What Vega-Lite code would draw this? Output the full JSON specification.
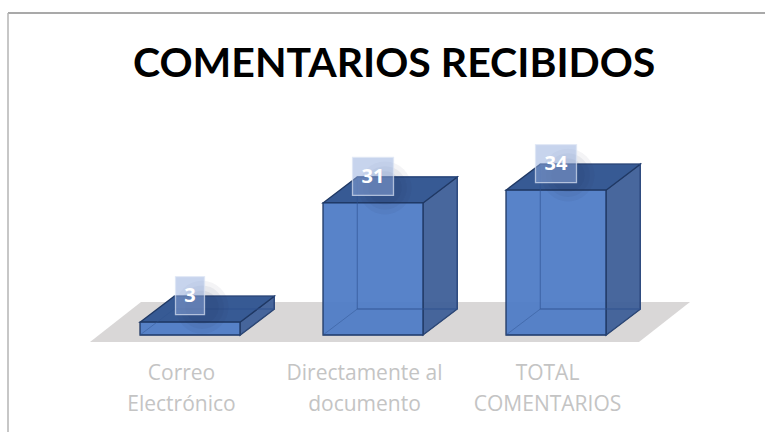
{
"$schema":"https://vega.github.io/schema/vega-lite/v6.json",
"width":765,"height":432,"padding":0,"autosize":"none","background":"white",
"config":{"view":{"stroke":null}},
"title":{"text":"COMENTARIOS RECIBIDOS","font":"Lato","fontWeight":"bold","fontSize":41,"color":"#000000","anchor":"start","offset":-86,"dx":133,"baseline":"top"},
"data":{"values":[
{"categoria":"Correo Electrónico","comentarios":3},
{"categoria":"Directamente al documento","comentarios":31},
{"categoria":"TOTAL COMENTARIOS","comentarios":34}]},
"encoding":{
"x":{"field":"categoria","type":"nominal","sort":null,"scale":{"type":"band","domain":["Correo Electrónico","Directamente al documento","TOTAL COMENTARIOS"],"range":[98.5,647.5],"paddingInner":0,"paddingOuter":0},
"axis":{"title":null,"orient":"bottom","offset":-97,"domain":false,"ticks":false,"labelAngle":0,"labelFont":"Open Sans","labelFontSize":21,"labelColor":"#c4c4c4","labelPadding":27,"labelLineHeight":31,"labelBaseline":"top","labelLimit":0,"labelOffset":-8.5,
"labelExpr":"datum.label=='Correo Electrónico'?['Correo','Electrónico']:datum.label=='Directamente al documento'?['Directamente al','documento']:['TOTAL','COMENTARIOS']"}},
"y":{"field":"comentarios","type":"quantitative","scale":{"domain":[0,40],"range":[335,164.6]},"axis":null}
},
"layer":[
{"mark":{"type":"point","filled":true,"fill":"#d9d7d7","opacity":1,"size":4,"shape":"M-232,-33L317,-33L266,7L-283,7Z"},
 "transform":[{"filter":"datum.comentarios==31"}],"encoding":{"y":{"datum":0}}},
{"mark":{"type":"point","filled":true,"fill":"#3f5f98","opacity":0.95,"stroke":"#1f3864","strokeWidth":1.3,"size":4},
 "encoding":{"shape":{"field":"categoria","type":"nominal","sort":null,"legend":null,"scale":{"domain":["Correo Electrónico","Directamente al documento","TOTAL COMENTARIOS"],"range":["M50,0L84.3,-26L84.3,-13L50,13Z","M50,0L84.3,-26L84.3,106L50,132Z","M50,0L84.3,-26L84.3,119L50,145Z"]}}}},
{"mark":{"type":"point","filled":true,"fill":"#375a94","opacity":1,"stroke":"#1f3864","strokeWidth":1.3,"size":4,"shape":"M-50,0L-15.7,-26L84.3,-26L50,0Z"}},
{"mark":{"type":"bar","size":100,"fill":"#4f7cc6","fillOpacity":0.95,"stroke":"#1f3864","strokeWidth":1.3},"encoding":{"y2":{"datum":0}}},
{"mark":{"type":"bar","size":100,"xOffset":34.3,"yOffset":-26,"y2Offset":-26,"fillOpacity":0,"stroke":"#2f528f","strokeWidth":1.2,"strokeOpacity":0.55},"encoding":{"y2":{"datum":0}}},
{"mark":{"type":"point","fillOpacity":0,"filled":false,"stroke":"#2f528f","strokeOpacity":0.45,"strokeWidth":1,"size":4,"shape":"M-50,0L-15.7,-26L84.3,-26L50,0Z"},"encoding":{"y":{"datum":0}}},
{"mark":{"type":"point","filled":true,"fill":"#1f2f4f","opacity":0.05,"size":2800,"shape":"circle","xOffset":12,"yOffset":-15}},
{"mark":{"type":"point","filled":true,"fill":"#1f2f4f","opacity":0.06,"size":1900,"shape":"circle","xOffset":12,"yOffset":-15}},
{"mark":{"type":"point","filled":true,"fill":"#1f2f4f","opacity":0.07,"size":1100,"shape":"circle","xOffset":12,"yOffset":-15}},
{"mark":{"type":"point","filled":true,"fill":"#8faadc","fillOpacity":0.5,"strokeOpacity":0.7,"size":4,"yOffset":-26.5,"xOffset":0,"stroke":"#dbe4f4","strokeWidth":1.3},
 "encoding":{"shape":{"field":"categoria","type":"nominal","sort":null,"legend":null,"scale":{"domain":["Correo Electrónico","Directamente al documento","TOTAL COMENTARIOS"],"range":["M-14.5,-19L14.5,-19L14.5,19L-14.5,19Z","M-20.5,-19L20.5,-19L20.5,19L-20.5,19Z","M-20.5,-19L20.5,-19L20.5,19L-20.5,19Z"]}}}},
{"mark":{"type":"text","font":"Open Sans","fontWeight":"bold","fontSize":20,"color":"#ffffff","yOffset":-26,"baseline":"middle"},"encoding":{"text":{"field":"comentarios","type":"quantitative"}}},
{"mark":{"type":"rule","color":"#8c8c8c","strokeWidth":1.3},"data":{"values":[{"a":8,"b":765,"c":13}]},"encoding":{"x":{"field":"a","type":"quantitative","scale":null},"x2":{"field":"b"},"y":{"field":"c","type":"quantitative","scale":null}}},
{"mark":{"type":"rule","color":"#b5b5b5","strokeWidth":1.5},"data":{"values":[{"a":8,"b":13,"c":432}]},"encoding":{"x":{"field":"a","type":"quantitative","scale":null},"y":{"field":"b","type":"quantitative","scale":null},"y2":{"field":"c"}}}
],
"resolve":{"scale":{"shape":"independent"}}
}
